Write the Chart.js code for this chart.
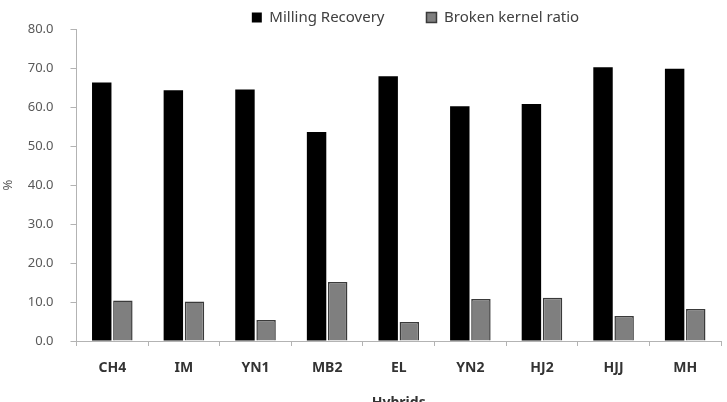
<!DOCTYPE html>
<html>
<head>
<meta charset="utf-8">
<script src="https://cdn.jsdelivr.net/npm/chart.js@4.4.0/dist/chart.umd.min.js"></script>
<style>
  html, body { margin: 0; padding: 0; background: #fff; overflow: hidden; }
  #wrap { width: 727px; height: 411px; position: relative; }
</style>
</head>
<body>
<div id="wrap"><canvas id="myChart"></canvas></div>
<script>
//Datos del grafico
const hybrids = ['CH4', 'IM', 'YN1', 'MB2', 'EL', 'YN2', 'HJ2', 'HJJ', 'MH'];
const millingRecovery = [66.3, 64.3, 64.5, 53.6, 67.9, 60.2, 60.8, 70.2, 69.8];
const brokenKernel = [10.4, 10.1, 5.4, 15.1, 4.9, 10.8, 11.1, 6.4, 8.2];
const yTicks = [0, 10, 20, 30, 40, 50, 60, 70, 80];

const color1 = '#000000';
const color2 = '#7f7f7f';
const axisColor = '#b3b3b3';
const fontName = "'Noto Sans', sans-serif";

//Mover la leyenda a su sitio (el clip usa top/bottom, solo se sube top)
const moveLegend = {
    id: 'moveLegend',
    afterLayout(chart) {
        const lg = chart.legend;
        lg.left += 55;
        lg.right += 55;
        lg.top -= 32;
    }
};

const cdx = document.getElementById('myChart');
new Chart(cdx, {
    type: 'bar',
    data: {
        labels: hybrids,
        datasets: [
            {
                label: 'Milling Recovery',
                data: millingRecovery,
                backgroundColor: color1,
                borderColor: color1,
                borderWidth: 0,
                barPercentage: 0.92,
                categoryPercentage: 0.59
            },
            {
                label: 'Broken kernel ratio',
                data: brokenKernel,
                backgroundColor: color2,
                borderColor: '#3a3a3a',
                borderWidth: 1.5,
                barPercentage: 0.92,
                categoryPercentage: 0.59
            }
        ]
    },
    options: {
        responsive: true,
        maintainAspectRatio: false,
        animation: false,
        layout: { padding: { left: 0, right: 6, top: 0, bottom: 0 } },
        scales: {
            x: {
                offset: true,
                grid: { drawOnChartArea: false, color: axisColor, tickLength: 5, lineWidth: 1 },
                border: { color: axisColor, width: 1 },
                ticks: {
                    color: '#333333',
                    padding: 14,
                    font: { family: fontName, size: 14, weight: 'bold' }
                },
                title: {
                    display: true,
                    text: 'Hybrids',
                    color: '#333333',
                    padding: { top: 0, bottom: 0 },
                    font: { family: fontName, size: 14, weight: 'bold' }
                },
                afterFit(scale) { scale.height = 70; }
            },
            y: {
                min: 0,
                max: 80,
                afterBuildTicks(scale) { scale.ticks = yTicks.map(v => ({ value: v })); },
                grid: { drawOnChartArea: false, color: axisColor, tickLength: 6, lineWidth: 1 },
                border: { color: axisColor, width: 1 },
                ticks: {
                    color: '#595959',
                    padding: 17,
                    font: { family: fontName, size: 13 },
                    callback: v => v.toFixed(1)
                },
                title: {
                    display: true,
                    text: '%',
                    color: '#595959',
                    padding: 0,
                    font: { family: fontName, size: 13 }
                },
                afterFit(scale) { scale.width = 76.5; }
            }
        },
        plugins: {
            legend: {
                position: 'top',
                maxHeight: 29,
                labels: {
                    color: '#404040',
                    boxWidth: 10,
                    boxHeight: 10,
                    padding: 42,
                    font: { family: fontName, size: 15 }
                }
            },
            tooltip: { enabled: false }
        }
    },
    plugins: [moveLegend]
});
</script>
</body>
</html>
